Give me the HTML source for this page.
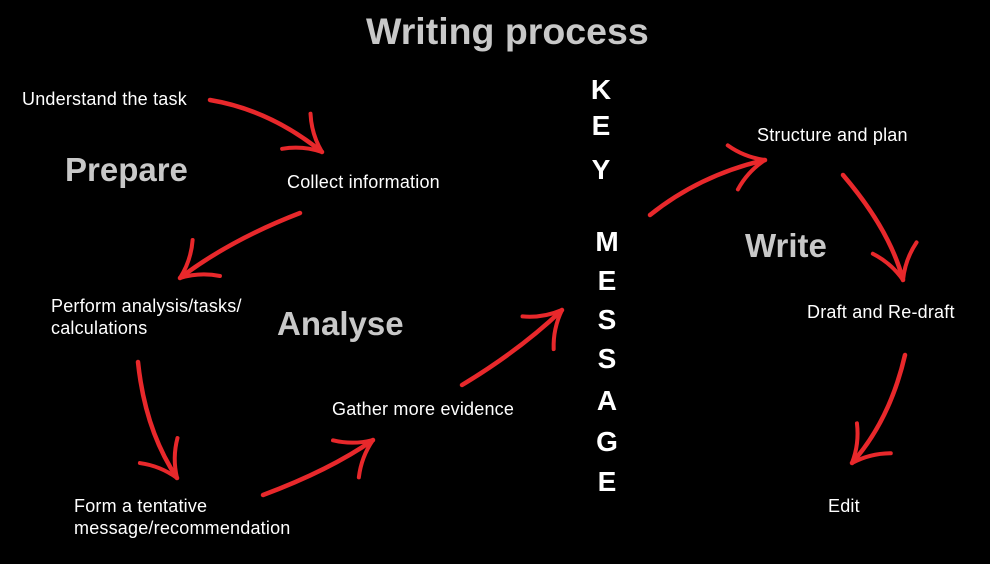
<!DOCTYPE html>
<html><head><meta charset="utf-8"><style>
html,body{margin:0;padding:0;background:#000;}
body{width:990px;height:564px;overflow:hidden;position:relative;font-family:"Liberation Sans",Arial,sans-serif;}
.t{position:absolute;color:#fff;font-size:18px;line-height:22px;white-space:nowrap;letter-spacing:0.2px;}
.h{position:absolute;color:#c8c8c8;font-weight:bold;white-space:nowrap;}
.k{position:absolute;color:#fff;font-weight:bold;font-size:28px;line-height:28px;width:30px;text-align:center;}
svg{position:absolute;left:0;top:0;}
</style></head><body>
<div class="h" style="left:366px;top:10px;font-size:37.5px;">Writing process</div>
<div class="h" style="left:65px;top:151px;font-size:33px;">Prepare</div>
<div class="h" style="left:277px;top:305px;font-size:33px;">Analyse</div>
<div class="h" style="left:745px;top:227px;font-size:33px;">Write</div>
<div class="t" style="left:22px;top:88px;">Understand the task</div>
<div class="t" style="left:287px;top:171px;">Collect information</div>
<div class="t" style="left:51px;top:295px;">Perform analysis/tasks/<br>calculations</div>
<div class="t" style="left:74px;top:495px;">Form a tentative<br>message/recommendation</div>
<div class="t" style="left:332px;top:398px;">Gather more evidence</div>
<div class="t" style="left:757px;top:124px;">Structure and plan</div>
<div class="t" style="left:807px;top:301px;">Draft and Re-draft</div>
<div class="t" style="left:828px;top:495px;">Edit</div>
<div class="k" style="left:586px;top:76px;">K</div>
<div class="k" style="left:586px;top:112px;">E</div>
<div class="k" style="left:586px;top:156px;">Y</div>
<div class="k" style="left:592px;top:228px;">M</div>
<div class="k" style="left:592px;top:267px;">E</div>
<div class="k" style="left:592px;top:306px;">S</div>
<div class="k" style="left:592px;top:345px;">S</div>
<div class="k" style="left:592px;top:387px;">A</div>
<div class="k" style="left:592px;top:428px;">G</div>
<div class="k" style="left:592px;top:468px;">E</div>
<svg id="s" width="990" height="564"></svg>
<script>
var A=[
[210,100,270,110,322,152],
[300,213,230,240,180,278],
[138,362,145,430,177,478],
[263,495,330,470,373,440],
[462,385,520,350,562,310],
[650,215,700,175,765,160],
[843,175,890,230,903,280],
[905,355,890,420,852,463]];
var s='';
A.forEach(function(a){
 s+='<path d="M'+a[0]+' '+a[1]+' Q'+a[2]+' '+a[3]+' '+a[4]+' '+a[5]+'" fill="none" stroke="#e8282b" stroke-width="4.5" stroke-linecap="round"/>';
 var dx=a[4]-a[2],dy=a[5]-a[3],L=Math.hypot(dx,dy);dx/=L;dy/=L;
 [-1,1].forEach(function(sg){
  var ang=sg*0.6,c=Math.cos(ang),sn=Math.sin(ang);
  var bx=-(dx*c-dy*sn),by=-(dx*sn+dy*c);
  var ex=a[4]+bx*40,ey=a[5]+by*40;
  var mx=a[4]+bx*20+(-by)*sg*5*(-1),my=a[5]+by*20+(bx)*sg*5*(-1);
  s+='<path d="M'+a[4]+' '+a[5]+' Q'+mx+' '+my+' '+ex+' '+ey+'" fill="none" stroke="#e8282b" stroke-width="4" stroke-linecap="round"/>';
 });
});
document.getElementById('s').innerHTML=s;
</script>
</body></html>
